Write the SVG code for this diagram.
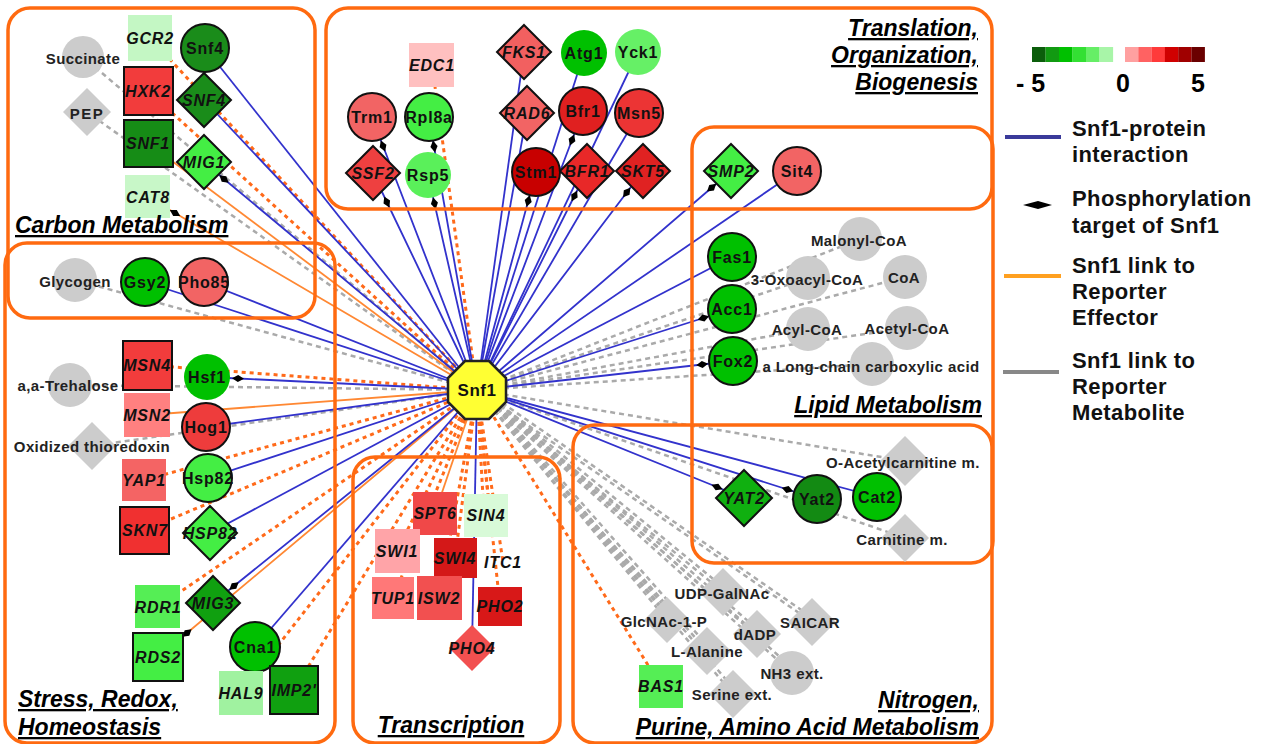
<svg xmlns="http://www.w3.org/2000/svg" xmlns:xlink="http://www.w3.org/1999/xlink" width="1264" height="744" viewBox="0 0 1264 744">
<style>
.b{stroke:#3232cc;stroke-width:1.8;fill:none}
.os{stroke:#ff8833;stroke-width:1.8;fill:none}
.od{stroke:#ff6a1a;stroke-width:3;stroke-dasharray:4 4;fill:none}
.g{stroke:#aaaaaa;stroke-width:2.5;stroke-dasharray:5 4;fill:none}
.box{fill:none;stroke:#ff6a10;stroke-width:3.5}
.bd{stroke:#111;stroke-width:2}
.m{fill:#cccccc}
.lbl{font-family:"Liberation Sans",Arial,sans-serif;font-weight:bold;font-size:16px;letter-spacing:0.8px;text-anchor:middle;dominant-baseline:central;fill:#111}
.gene{font-style:italic}
.met{fill:#222;font-size:15px;letter-spacing:0.4px}
.title{font-family:"Liberation Sans",Arial,sans-serif;font-style:italic;font-weight:bold;font-size:23px;text-decoration:underline;fill:#000}
.leg{font-family:"Liberation Sans",Arial,sans-serif;font-weight:bold;font-size:22px;fill:#111;letter-spacing:0.4px}
.num{font-family:"Liberation Sans",Arial,sans-serif;font-weight:bold;font-size:25px;fill:#000}
</style>
<defs>
<marker id="ph" markerUnits="userSpaceOnUse" markerWidth="16" markerHeight="10" viewBox="-8 -5 16 10" refX="0" refY="0" orient="auto">
<path d="M-6,0 L0,-3.6 L6,0 L0,3.6 Z" fill="#000"/>
</marker>
</defs>
<rect width="1264" height="744" fill="#fff"/>

<g id="connectors">
<!-- gray metabolite links -->
<line class="g" x1="477" y1="390" x2="83" y2="57"/>
<line class="g" x1="477" y1="390" x2="87" y2="112"/>
<line class="g" x1="477" y1="390" x2="75" y2="280"/>
<line class="g" x1="477" y1="390" x2="70" y2="385"/>
<line class="g" x1="477" y1="390" x2="92" y2="446"/>
<line class="g" x1="477" y1="390" x2="860" y2="239"/>
<line class="g" x1="477" y1="390" x2="808" y2="278"/>
<line class="g" x1="477" y1="390" x2="905" y2="277"/>
<line class="g" x1="477" y1="390" x2="808" y2="329"/>
<line class="g" x1="477" y1="390" x2="907" y2="328"/>
<line class="g" x1="477" y1="390" x2="872" y2="364"/>
<line class="g" x1="477" y1="390" x2="905" y2="461"/>
<line class="g" x1="477" y1="390" x2="905" y2="538"/>
<g id="nitro">
<line class="g" x1="477" y1="390" x2="723" y2="592"/>
<line class="g" x1="477" y1="390" x2="667" y2="620"/>
<line class="g" x1="477" y1="390" x2="757" y2="634"/>
<line class="g" x1="477" y1="390" x2="812" y2="622"/>
<line class="g" x1="477" y1="390" x2="707" y2="651"/>
<line class="g" x1="477" y1="390" x2="792" y2="673"/>
<line class="g" x1="477" y1="390" x2="733" y2="694"/>
</g>
<use xlink:href="#nitro" href="#nitro" transform="translate(3,-2.5)"/>
<!-- orange dotted reporter effector links -->
<line class="od" x1="477" y1="390" x2="150" y2="38"/>
<line class="od" x1="477" y1="390" x2="148" y2="91"/>
<line class="od" x1="477" y1="390" x2="432" y2="65"/>
<line class="od" x1="477" y1="390" x2="147" y2="365"/>
<line class="od" x1="477" y1="390" x2="144" y2="480"/>
<line class="od" x1="477" y1="390" x2="145" y2="530"/>
<line class="od" x1="477" y1="390" x2="158" y2="607"/>
<line class="od" x1="477" y1="390" x2="241" y2="693"/>
<line class="od" x1="477" y1="390" x2="294" y2="690"/>
<line class="od" x1="477" y1="390" x2="397" y2="551"/>
<line class="od" x1="477" y1="390" x2="393" y2="598"/>
<line class="od" x1="477" y1="390" x2="439" y2="598"/>
<line class="od" x1="477" y1="390" x2="455" y2="558"/>
<line class="od" x1="477" y1="390" x2="484" y2="515"/>
<line class="od" x1="477" y1="390" x2="490" y2="515"/>
<line class="od" x1="477" y1="390" x2="500" y2="606"/>
<line class="od" x1="477" y1="390" x2="503" y2="562"/>
<line class="od" x1="477" y1="390" x2="661" y2="686"/>
<!-- orange solid links -->
<line class="os" x1="477" y1="390" x2="148" y2="143"/>
<polyline class="os" points="477,390 175,213 148,197" marker-mid="url(#ph)"/>
<line class="os" x1="477" y1="390" x2="147" y2="415"/>
<polyline class="os" points="477,390 187,633 158,657" marker-mid="url(#ph)"/>
<line class="os" x1="477" y1="390" x2="435" y2="513"/>
<!-- blue protein interaction links -->
<line class="b" x1="477" y1="390" x2="205" y2="48"/>
<line class="b" x1="477" y1="390" x2="204" y2="100"/>
<line class="b" x1="477" y1="390" x2="145" y2="282"/>
<line class="b" x1="477" y1="390" x2="204" y2="282"/>
<line class="b" x1="477" y1="390" x2="206" y2="427"/>
<line class="b" x1="477" y1="390" x2="208" y2="478"/>
<line class="b" x1="477" y1="390" x2="210" y2="533"/>
<line class="b" x1="477" y1="390" x2="255" y2="647"/>
<line class="b" x1="477" y1="390" x2="472" y2="648"/>
<line class="b" x1="477" y1="390" x2="524" y2="52"/>
<line class="b" x1="477" y1="390" x2="584" y2="53"/>
<line class="b" x1="477" y1="390" x2="638" y2="52"/>
<line class="b" x1="477" y1="390" x2="527" y2="113"/>
<line class="b" x1="477" y1="390" x2="639" y2="113"/>
<line class="b" x1="477" y1="390" x2="797" y2="171"/>
<line class="b" x1="477" y1="390" x2="732" y2="257"/>
<line class="b" x1="477" y1="390" x2="877" y2="497"/>
<polyline class="b" points="477,390 224,179 204,162" marker-mid="url(#ph)"/>
<polyline class="b" points="477,390 238,378.5 207,377" marker-mid="url(#ph)"/>
<polyline class="b" points="477,390 234,586 213,603" marker-mid="url(#ph)"/>
<polyline class="b" points="477,390 383,146 372,117" marker-mid="url(#ph)"/>
<polyline class="b" points="477,390 434,146.5 429,117" marker-mid="url(#ph)"/>
<polyline class="b" points="477,390 434.4,203.3 428,175" marker-mid="url(#ph)"/>
<polyline class="b" points="477,390 386.8,202 373,173" marker-mid="url(#ph)"/>
<polyline class="b" points="477,390 572,140 583,111" marker-mid="url(#ph)"/>
<polyline class="b" points="477,390 528.2,201 536,172" marker-mid="url(#ph)"/>
<polyline class="b" points="477,390 574.4,196 587,171" marker-mid="url(#ph)"/>
<polyline class="b" points="477,390 626.7,192.5 643,171" marker-mid="url(#ph)"/>
<polyline class="b" points="477,390 711.6,187.7 731,171" marker-mid="url(#ph)"/>
<polyline class="b" points="477,390 703.4,318 732,309" marker-mid="url(#ph)"/>
<polyline class="b" points="477,390 702.2,364.5 733,361" marker-mid="url(#ph)"/>
<polyline class="b" points="477,390 717,487 744,498" marker-mid="url(#ph)"/>
<polyline class="b" points="477,390 787.5,489.5 817,499" marker-mid="url(#ph)"/>
</g>

<g id="groups">
<rect class="box" x="8" y="8" width="307" height="310" rx="22"/>
<rect class="box" x="5" y="243" width="330" height="500" rx="22"/>
<rect class="box" x="326" y="8" width="666" height="201" rx="22"/>
<rect class="box" x="692" y="127" width="301" height="436" rx="22"/>
<rect class="box" x="353" y="457" width="207" height="286" rx="22"/>
<rect class="box" x="573" y="425" width="419" height="318" rx="22"/>
</g>

<!-- Carbon metabolism -->
<g id="n-Succinate"><circle class="m" cx="83" cy="57" r="21"/><text class="lbl met" x="83" y="58">Succinate</text></g>
<g id="n-PEP"><polygon class="m" points="87,88 111,112 87,136 63,112"/><text class="lbl met" x="87" y="113" style="letter-spacing:1.5px">PEP</text></g>
<g id="n-GCR2"><rect x="128" y="15" width="44" height="46" fill="#c4f7c4"/><text class="lbl gene" x="150" y="38">GCR2</text></g>
<g id="n-HXK2"><rect class="bd" x="124" y="67" width="49" height="48" fill="#f23c3c"/><text class="lbl gene" x="148" y="91">HXK2</text></g>
<g id="n-SNF1"><rect class="bd" x="124" y="120" width="49" height="47" fill="#168c16"/><text class="lbl gene" x="148" y="143">SNF1</text></g>
<g id="n-CAT8"><rect x="125" y="175" width="45" height="43" fill="#c8f7c8"/><text class="lbl gene" x="148" y="197">CAT8</text></g>
<g id="n-Snf4"><circle class="bd" cx="205" cy="48" r="24" fill="#1a8c1a"/><text class="lbl" x="205" y="48">Snf4</text></g>
<g id="n-SNF4"><polygon class="bd" points="204,73 231,100 204,127 177,100" fill="#1a8c1a"/><text class="lbl gene" x="204" y="100">SNF4</text></g>
<g id="n-MIG1"><polygon class="bd" points="204,135 231,162 204,189 177,162" fill="#44ee44"/><text class="lbl gene" x="204" y="162">MIG1</text></g>

<!-- Glycogen -->
<g id="n-Glycogen"><circle class="m" cx="75" cy="280" r="22"/><text class="lbl met" x="75" y="281">Glycogen</text></g>
<g id="n-Gsy2"><circle class="bd" cx="145" cy="282" r="24" fill="#00c000"/><text class="lbl" x="145" y="282">Gsy2</text></g>
<g id="n-Pho85"><circle class="bd" cx="204" cy="282" r="24" fill="#f26464"/><text class="lbl" x="204" y="282">Pho85</text></g>

<!-- Stress -->
<g id="n-Trehalose"><circle class="m" cx="70" cy="385" r="22"/><text class="lbl met" x="68" y="385">a,a-Trehalose</text></g>
<g id="n-MSN4"><rect class="bd" x="123" y="341" width="49" height="49" fill="#f23c3c"/><text class="lbl gene" x="147" y="365">MSN4</text></g>
<g id="n-Hsf1"><circle cx="207" cy="377" r="23" fill="#00c000"/><text class="lbl" x="207" y="377">Hsf1</text></g>
<g id="n-MSN2"><rect x="124" y="393" width="46" height="44" fill="#ff8080"/><text class="lbl gene" x="147" y="415">MSN2</text></g>
<g id="n-Hog1"><circle class="bd" cx="206" cy="427" r="24" fill="#ee3c3c"/><text class="lbl" x="206" y="427">Hog1</text></g>
<g id="n-Thioredoxin"><polygon class="m" points="92,422 116,446 92,470 68,446"/><text class="lbl met" x="92" y="446">Oxidized thioredoxin</text></g>
<g id="n-YAP1"><rect x="122" y="459" width="44" height="42" fill="#f46464"/><text class="lbl gene" x="144" y="480">YAP1</text></g>
<g id="n-Hsp82"><circle class="bd" cx="208" cy="478" r="24" fill="#44ee44"/><text class="lbl" x="208" y="478">Hsp82</text></g>
<g id="n-SKN7"><rect class="bd" x="120" y="507" width="49" height="47" fill="#f03030"/><text class="lbl gene" x="145" y="530">SKN7</text></g>
<g id="n-HSP82"><polygon class="bd" points="210,506 237,533 210,560 183,533" fill="#44ee44"/><text class="lbl gene" x="210" y="533">HSP82</text></g>
<g id="n-RDR1"><rect x="135" y="585" width="45" height="43" fill="#55ee55"/><text class="lbl gene" x="158" y="607">RDR1</text></g>
<g id="n-MIG3"><polygon class="bd" points="213,576 240,603 213,630 186,603" fill="#10a010"/><text class="lbl gene" x="213" y="603">MIG3</text></g>
<g id="n-RDS2"><rect class="bd" x="133" y="633" width="50" height="48" fill="#44ee44"/><text class="lbl gene" x="158" y="657">RDS2</text></g>
<g id="n-Cna1"><circle class="bd" cx="255" cy="647" r="25" fill="#00c000"/><text class="lbl" x="255" y="647">Cna1</text></g>
<g id="n-HAL9"><rect x="219" y="671" width="44" height="44" fill="#a0f2a0"/><text class="lbl gene" x="241" y="693">HAL9</text></g>
<g id="n-IMP2"><rect class="bd" x="270" y="666" width="48" height="48" fill="#10a010"/><text class="lbl gene" x="294" y="690">IMP2'</text></g>

<!-- Translation, Organization, Biogenesis -->
<g id="n-EDC1"><rect x="409" y="43" width="45" height="44" fill="#ffc0c0"/><text class="lbl gene" x="432" y="65">EDC1</text></g>
<g id="n-Trm1"><circle class="bd" cx="372" cy="117" r="24" fill="#f26464"/><text class="lbl" x="372" y="117">Trm1</text></g>
<g id="n-Rpl8a"><circle class="bd" cx="429" cy="117" r="24" fill="#44ee44"/><text class="lbl" x="429" y="117">Rpl8a</text></g>
<g id="n-SSF2"><polygon class="bd" points="373,146 400,173 373,200 346,173" fill="#ee4040"/><text class="lbl gene" x="373" y="173">SSF2</text></g>
<g id="n-Rsp5"><circle cx="428" cy="175" r="23" fill="#5af05a"/><text class="lbl" x="428" y="175">Rsp5</text></g>
<g id="n-FKS1"><polygon class="bd" points="524,25 551,52 524,79 497,52" fill="#f26060"/><text class="lbl gene" x="524" y="52">FKS1</text></g>
<g id="n-Atg1"><circle cx="584" cy="53" r="23" fill="#00c000"/><text class="lbl" x="584" y="53">Atg1</text></g>
<g id="n-Yck1"><circle cx="638" cy="52" r="23" fill="#66f066"/><text class="lbl" x="638" y="52">Yck1</text></g>
<g id="n-RAD6"><polygon class="bd" points="527,86 554,113 527,140 500,113" fill="#f26464"/><text class="lbl gene" x="527" y="113">RAD6</text></g>
<g id="n-Bfr1"><circle class="bd" cx="583" cy="111" r="24" fill="#e02020"/><text class="lbl" x="583" y="111">Bfr1</text></g>
<g id="n-Msn5"><circle class="bd" cx="639" cy="113" r="24" fill="#ec3434"/><text class="lbl" x="639" y="113">Msn5</text></g>
<g id="n-Stm1"><circle class="bd" cx="536" cy="172" r="24" fill="#c80000"/><text class="lbl" x="536" y="172">Stm1</text></g>
<g id="n-BFR1"><polygon class="bd" points="587,144 614,171 587,198 560,171" fill="#e82828"/><text class="lbl gene" x="587" y="171">BFR1</text></g>
<g id="n-SKT5"><polygon class="bd" points="643,144 670,171 643,198 616,171" fill="#e02222"/><text class="lbl gene" x="643" y="171">SKT5</text></g>

<!-- Lipid metabolism -->
<g id="n-SMP2"><polygon class="bd" points="731,144 758,171 731,198 704,171" fill="#44ee44"/><text class="lbl gene" x="731" y="171">SMP2</text></g>
<g id="n-Sit4"><circle class="bd" cx="797" cy="171" r="24" fill="#f26464"/><text class="lbl" x="797" y="171">Sit4</text></g>
<g id="n-Fas1"><circle class="bd" cx="732" cy="257" r="24" fill="#00c000"/><text class="lbl" x="732" y="257">Fas1</text></g>
<g id="n-Acc1"><circle class="bd" cx="732" cy="309" r="24" fill="#00c000"/><text class="lbl" x="732" y="309">Acc1</text></g>
<g id="n-Fox2"><circle class="bd" cx="733" cy="361" r="24" fill="#00c000"/><text class="lbl" x="733" y="361">Fox2</text></g>
<g id="n-MalonylCoA"><circle class="m" cx="860" cy="239" r="22"/><text class="lbl met" x="859" y="240">Malonyl-CoA</text></g>
<g id="n-OxoacylCoA"><circle class="m" cx="808" cy="278" r="22"/><text class="lbl met" x="807" y="279">3-Oxoacyl-CoA</text></g>
<g id="n-CoA"><circle class="m" cx="905" cy="277" r="22"/><text class="lbl met" x="904" y="277">CoA</text></g>
<g id="n-AcylCoA"><circle class="m" cx="808" cy="329" r="22"/><text class="lbl met" x="807" y="329">Acyl-CoA</text></g>
<g id="n-AcetylCoA"><circle class="m" cx="907" cy="328" r="22"/><text class="lbl met" x="907" y="328">Acetyl-CoA</text></g>
<g id="n-LongChain"><circle class="m" cx="872" cy="364" r="22"/><text class="lbl met" x="871" y="366">a Long-chain carboxylic acid</text></g>

<!-- Yat region -->
<g id="n-OAcetylcarnitine"><polygon class="m" points="905,436 930,461 905,486 880,461"/><text class="lbl met" x="903" y="462">O-Acetylcarnitine m.</text></g>
<g id="n-Carnitine"><polygon class="m" points="905,514 929,538 905,562 881,538"/><text class="lbl met" x="902" y="539">Carnitine m.</text></g>
<g id="n-YAT2"><polygon class="bd" points="744,470 772,498 744,526 716,498" fill="#10b010"/><text class="lbl gene" x="744" y="498">YAT2</text></g>
<g id="n-Yat2"><circle class="bd" cx="817" cy="499" r="24" fill="#138a13"/><text class="lbl" x="817" y="499">Yat2</text></g>
<g id="n-Cat2"><circle class="bd" cx="877" cy="497" r="24" fill="#00c000"/><text class="lbl" x="877" y="497">Cat2</text></g>

<!-- Nitrogen, purine, amino acid -->
<g id="n-UDPGalNAc"><polygon class="m" points="723,568 747,592 723,616 699,592"/><text class="lbl met" x="722" y="593">UDP-GalNAc</text></g>
<g id="n-GlcNAc1P"><polygon class="m" points="667,597 690,620 667,643 644,620"/><text class="lbl met" x="664" y="621">GlcNAc-1-P</text></g>
<g id="n-dADP"><polygon class="m" points="757,610 781,634 757,658 733,634"/><text class="lbl met" x="755" y="634">dADP</text></g>
<g id="n-SAICAR"><polygon class="m" points="812,598 836,622 812,646 788,622"/><text class="lbl met" x="810" y="622">SAICAR</text></g>
<g id="n-LAlanine"><polygon class="m" points="707,627 731,651 707,675 683,651"/><text class="lbl met" x="707" y="651">L-Alanine</text></g>
<g id="n-NH3"><circle class="m" cx="792" cy="673" r="22"/><text class="lbl met" x="792" y="673">NH3 ext.</text></g>
<g id="n-Serine"><polygon class="m" points="733,670 757,694 733,718 709,694"/><text class="lbl met" x="732" y="694">Serine ext.</text></g>
<g id="n-BAS1"><rect x="639" y="665" width="44" height="43" fill="#55ee55"/><text class="lbl gene" x="661" y="686">BAS1</text></g>

<!-- Transcription -->
<g id="n-SPT6"><rect x="413" y="492" width="44" height="43" fill="#f04848"/><text class="lbl gene" x="435" y="513">SPT6</text></g>
<g id="n-SIN4"><rect x="464" y="494" width="44" height="43" fill="#d8fad8"/><text class="lbl gene" x="486" y="515">SIN4</text></g>
<g id="n-SWI1"><rect x="375" y="529" width="45" height="44" fill="#ffa4a8"/><text class="lbl gene" x="397" y="551">SWI1</text></g>
<g id="n-SWI4"><rect x="434" y="538" width="43" height="40" fill="#d41818"/><text class="lbl gene" x="455" y="558">SWI4</text></g>
<g id="n-ITC1"><text class="lbl gene" x="503" y="562">ITC1</text></g>
<g id="n-TUP1"><rect x="372" y="577" width="42" height="42" fill="#ff7878"/><text class="lbl gene" x="393" y="598">TUP1</text></g>
<g id="n-ISW2"><rect x="417" y="576" width="45" height="44" fill="#f25050"/><text class="lbl gene" x="439" y="598">ISW2</text></g>
<g id="n-PHO2"><rect x="478" y="587" width="44" height="39" fill="#d81818"/><text class="lbl gene" x="500" y="606">PHO2</text></g>
<g id="n-PHO4"><polygon points="472,625 495,648 472,671 449,648" fill="#f25050"/><text class="lbl gene" x="472" y="648">PHO4</text></g>

<!-- Snf1 hub -->
<g id="n-Snf1"><polygon points="465,361 489,361 506,378 506,402 489,419 465,419 448,402 448,378" fill="#ffff33" stroke="#222" stroke-width="2.5"/><text class="lbl" x="477" y="390" style="font-size:17px;letter-spacing:0.5px">Snf1</text></g>

<!-- Group titles -->
<g id="titles">
<text class="title" x="15" y="233">Carbon Metabolism</text>
<text class="title" x="978" y="36" text-anchor="end">Translation,</text>
<text class="title" x="978" y="63" text-anchor="end">Organization,</text>
<text class="title" x="978" y="90" text-anchor="end">Biogenesis</text>
<text class="title" x="982" y="413" text-anchor="end">Lipid Metabolism</text>
<text class="title" x="18" y="707">Stress, Redox,</text>
<text class="title" x="18" y="735">Homeostasis</text>
<text class="title" x="451" y="733" text-anchor="middle">Transcription</text>
<text class="title" x="979" y="708" text-anchor="end">Nitrogen,</text>
<text class="title" x="979" y="735" text-anchor="end">Purine, Amino Acid Metabolism</text>
</g>

<!-- Legend -->
<g id="legend">
<rect x="1032" y="47" width="13.6" height="15" fill="#0b5e0b"/>
<rect x="1045.5" y="47" width="13.6" height="15" fill="#129a12"/>
<rect x="1059" y="47" width="13.6" height="15" fill="#00c000"/>
<rect x="1072.5" y="47" width="13.6" height="15" fill="#33e033"/>
<rect x="1086" y="47" width="13.6" height="15" fill="#66ee66"/>
<rect x="1099.5" y="47" width="13.6" height="15" fill="#a8f5a8"/>
<rect x="1125" y="47" width="13.4" height="15" fill="#ffa0a0"/>
<rect x="1138.3" y="47" width="13.4" height="15" fill="#ff6262"/>
<rect x="1151.6" y="47" width="13.4" height="15" fill="#ff3a3a"/>
<rect x="1164.9" y="47" width="13.4" height="15" fill="#d00000"/>
<rect x="1178.2" y="47" width="13.4" height="15" fill="#a00000"/>
<rect x="1191.5" y="47" width="13.4" height="15" fill="#6a0000"/>
<text class="num" x="1016" y="92">- 5</text>
<text class="num" x="1123" y="92" text-anchor="middle">0</text>
<text class="num" x="1198" y="92" text-anchor="middle">5</text>
<line x1="1005" y1="137" x2="1061" y2="137" stroke="#3a3a9a" stroke-width="4"/>
<text class="leg" x="1072" y="136">Snf1-protein</text>
<text class="leg" x="1072" y="162">interaction</text>
<polygon points="1023,205 1038,201 1052,205 1038,209" fill="#000"/>
<text class="leg" x="1072" y="206">Phosphorylation</text>
<text class="leg" x="1072" y="233">target of Snf1</text>
<line x1="1004" y1="276" x2="1061" y2="276" stroke="#ffa020" stroke-width="4"/>
<text class="leg" x="1072" y="273">Snf1 link to</text>
<text class="leg" x="1072" y="299">Reporter</text>
<text class="leg" x="1072" y="325">Effector</text>
<line x1="1003" y1="372" x2="1059" y2="372" stroke="#888888" stroke-width="4"/>
<text class="leg" x="1072" y="368">Snf1 link to</text>
<text class="leg" x="1072" y="394">Reporter</text>
<text class="leg" x="1072" y="420">Metabolite</text>
</g>
</svg>
